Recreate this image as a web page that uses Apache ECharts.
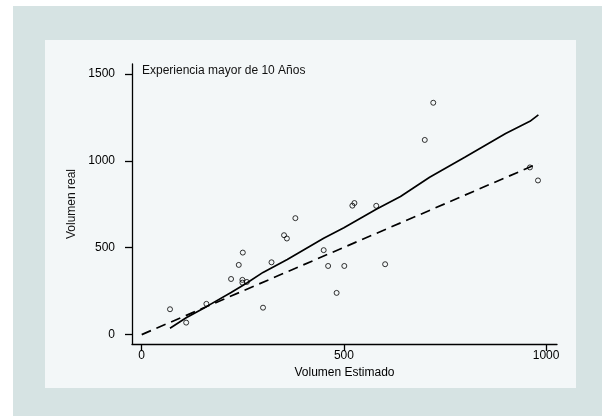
<!DOCTYPE html>
<html>
<head>
<meta charset="utf-8">
<script src="https://cdn.jsdelivr.net/npm/echarts@6/dist/echarts.min.js"></script>
<style>
html,body{margin:0;padding:0;background:#ffffff;}
#outer{position:absolute;left:13px;top:6px;width:589px;height:410px;background:#d6e3e3;}
#inner{position:absolute;left:45px;top:40px;width:531px;height:348px;background:#f3f7f8;}
#chart{position:absolute;left:0;top:0;width:602px;height:416px;}
</style>
</head>
<body>
<div id="outer"></div>
<div id="inner"></div>
<div id="chart"></div>
<script>
// Scatter: estimated volume (x) vs real volume (y)
const volEstimado = [70,110,160,221,240,250,249,249,260,300,321,352,359,380,450,461,482,501,521,526,580,602,700,721,960,980];
const volReal     = [146,69,177,320,401,472,315,299,303,155,416,572,553,670,486,395,240,395,742,757,741,405,1120,1334,962,887];
// Smoothed fit (solid line)
const suaveX = [70,110,160,221,260,300,360,450,500,580,640,712,800,900,960,981];
const suaveY = [37,97,161,242,297,358,432,554,615,721,795,905,1022,1157,1227,1264];
// Reference line (dashed)
const refX = [0,981];
const refY = [0,985];
const xTicks = [0,500,1000];
const yTicks = [0,500,1000,1500];
const tituloTexto = 'Experiencia mayor de 10 Años';

const font = 'Liberation Sans, Arial, sans-serif';
const chart = echarts.init(document.getElementById('chart'), null, {renderer:'canvas'});
chart.setOption({
  backgroundColor: 'transparent',
  animation: false,
  title: {
    text: tituloTexto, left: 142, top: 65, padding: 0,
    textStyle: {fontFamily: font, fontSize: 12, fontWeight: 'normal', color: '#111'}
  },
  grid: {left: 132, right: 45, top: 64, bottom: 72, containLabel: false},
  xAxis: {
    type: 'value', min: -24, max: 1027,
    name: 'Volumen Estimado', nameLocation: 'middle', nameGap: 19,
    nameTextStyle: {fontFamily: font, fontSize: 12, color: '#000'},
    axisLine: {show: true, onZero: false, lineStyle: {color: '#000', width: 1.3}},
    axisTick: {show: true, length: 7, customValues: xTicks, lineStyle: {color: '#000', width: 1.3}},
    axisLabel: {customValues: xTicks, margin: 6, fontFamily: font, fontSize: 12, color: '#000',
      formatter: v => String(v)},
    splitLine: {show: false}
  },
  yAxis: {
    type: 'value', min: -54, max: 1557,
    name: 'Volumen real', nameLocation: 'middle', nameGap: 53,
    nameTextStyle: {fontFamily: font, fontSize: 12, color: '#111'},
    axisLine: {show: true, onZero: false, lineStyle: {color: '#000', width: 1.3}},
    axisTick: {show: true, length: 7, customValues: yTicks, lineStyle: {color: '#000', width: 1.3}},
    axisLabel: {customValues: yTicks, margin: 17, fontFamily: font, fontSize: 12, color: '#000',
      formatter: v => String(v)},
    splitLine: {show: false}
  },
  series: [
    {
      type: 'line', data: refX.map((x,i)=>[x, refY[i]]), showSymbol: false, symbol: 'none',
      lineStyle: {color: '#000', width: 1.7, type: [10, 6]}, z: 2
    },
    {
      type: 'line', data: suaveX.map((x,i)=>[x, suaveY[i]]), showSymbol: false, symbol: 'none',
      lineStyle: {color: '#000', width: 1.7}, z: 3
    },
    {
      type: 'scatter', data: volEstimado.map((x,i)=>[x, volReal[i]]), symbol: 'circle', symbolSize: 5,
      itemStyle: {color: 'rgba(0,0,0,0)', borderColor: '#000', borderWidth: 1}, z: 4
    }
  ]
});
</script>
</body>
</html>
